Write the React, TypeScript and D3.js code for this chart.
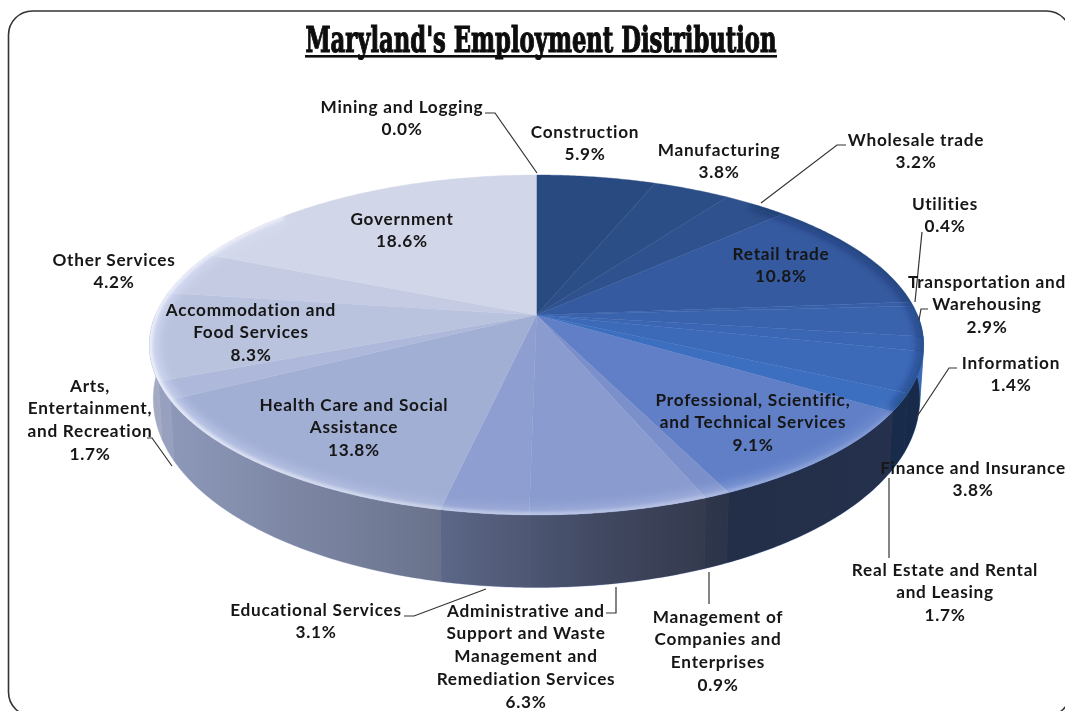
import React from "react";
import * as d3 from "d3";

const W = 1065, H = 711;
const sectors = ["Mining and Logging","Construction","Manufacturing","Wholesale trade","Retail trade","Utilities","Transportation and Warehousing","Information","Finance and Insurance","Real Estate and Rental and Leasing","Professional, Scientific, and Technical Services","Management of Companies and Enterprises","Administrative and Support and Waste Management and Remediation Services","Educational Services","Health Care and Social Assistance","Arts, Entertainment, and Recreation","Accommodation and Food Services","Other Services","Government"];
const shares = [0.0,5.9,3.8,3.2,10.8,0.4,2.9,1.4,3.8,1.7,9.1,0.9,6.3,3.1,13.8,1.7,8.3,4.2,18.6];
const palette = ["#24467c","#284a80","#2b4e87","#2f528e","#355a9f","#3860a8","#3a63ad","#3b66b3","#3c6ab9","#3d6fc0","#607fc7","#7b90cb","#8a9bcf","#8e9ed0","#a2afd5","#adb8da","#bac3de","#c4cbe3","#d1d6e8"];

const labelLines = [["Mining and Logging"],["Construction"],["Manufacturing"],["Wholesale trade"],["Retail trade"],["Utilities"],["Transportation and","Warehousing"],["Information"],["Finance and Insurance"],["Real Estate and Rental","and Leasing"],["Professional, Scientific,","and Technical Services"],["Management of","Companies and","Enterprises"],["Administrative and","Support and Waste","Management and","Remediation Services"],["Educational Services"],["Health Care and Social","Assistance"],["Arts,","Entertainment,","and Recreation"],["Accommodation and","Food Services"],["Other Services"],["Government"]];
const labelCenterX = [402,585,719,916,781,945,987,1011,973,945,753,718,526,316,354,90,251,114,402];
const labelTopY = [107,132,150,140,254,204,282,363,468,570,400,617,611,610,405,386,310,260,219];
const leaders: [number,number][][] = [
  [[485,113],[495,113],[537,173]],
  [[846,145],[837,145],[761,203]],
  [[922,232],[915,302]],
  [[928,309],[921,309],[919,320]],
  [[957,368],[949,368],[916,418]],
  [[889,478],[889,558]],
  [[709,572],[709,604]],
  [[616,587],[616,613],[606,613]],
  [[404,616],[414,616],[486,589]],
  [[147,438],[152,438],[172,466]],
];

const apex = { x: 536.5, y: 315 };
const persp = 0.1765, Rx = 381, Ry = 164.7;
const project = (t: number) => {
  const u = Math.sin(t), v = -Math.cos(t), w = 1 - persp * v;
  return { x: apex.x + (Rx * u) / w, y: apex.y + (Ry * v) / w, v };
};
const lowerRim = (t: number) => {
  const p = project(t);
  return { x: apex.x + (p.x - apex.x) * 0.99, y: p.y + 50 * (1 + 0.45 * p.v) };
};
const arcs = d3.pie<number>().sort(null).value((d) => d).startAngle(0).endAngle(2 * Math.PI)(shares);
const samples = (a: number, b: number) => {
  const n = Math.max(2, Math.ceil((b - a) / 0.01));
  return d3.range(n + 1).map((i) => a + ((b - a) * i) / n);
};
const line = d3.line<{ x: number; y: number }>().x((d) => d.x).y((d) => d.y);
const topPath = (a: number, b: number) => line([apex, ...samples(a, b).map(project)]) + "Z";
const sidePath = (a: number, b: number) => line([...samples(a, b).map(project), ...samples(a, b).reverse().map(lowerRim)]) + "Z";
const rim = line(samples(0, 2 * Math.PI).map(project)) + "Z";
const deg = (d: number) => (d * Math.PI) / 180;
const lightArc = line(samples(deg(122), deg(312)).map(project)) as string;
const darkArc = line(samples(deg(40), deg(122)).map(project)) as string;
const x2off = d3.scaleLinear().domain([148, 924]).range([0, 1]);

const shadeStops: [number, number][] = [[148, 0.12],[170, 0.13],[430, 0.34],[530, 0.45],[620, 0.55],[725, 0.64],[880, 0.62],[924, 0.6]];
const rimStops: [number, number][] = [[148, 0.62],[240, 0.5],[440, 0.38],[600, 0.3],[730, 0.22],[890, 0.1]];
const glowStops: [number, number][] = [[148, 0.55],[240, 0.35],[440, 0.15],[720, 0.25],[890, 0.1]];

const fontFamily = "Lato, Carlito, sans-serif";

export default function App() {
  const sideArcs = arcs.filter((a) => a.endAngle > Math.PI / 2 && a.startAngle < 1.5 * Math.PI);
  return (
    <svg width={W} height={H} style={{ position: "absolute", left: 0, top: 0, background: "#fff" }}>
      <defs>
        <linearGradient id="shade" gradientUnits="userSpaceOnUse" x1={148} x2={924} y1={0} y2={0}>
          {shadeStops.map(([x, o]) => <stop key={x} offset={x2off(x)} stopColor="#000" stopOpacity={o} />)}
        </linearGradient>
        <linearGradient id="rimLight" gradientUnits="userSpaceOnUse" x1={148} x2={924} y1={0} y2={0}>
          {rimStops.map(([x, o]) => <stop key={x} offset={x2off(x)} stopColor="#fff" stopOpacity={o} />)}
        </linearGradient>
        <linearGradient id="rimGlow" gradientUnits="userSpaceOnUse" x1={148} x2={924} y1={0} y2={0}>
          {glowStops.map(([x, o]) => <stop key={x} offset={x2off(x)} stopColor="#dfe6ff" stopOpacity={o} />)}
        </linearGradient>
        <filter id="soft" x="-5%" y="-5%" width="110%" height="110%"><feGaussianBlur stdDeviation="1.8" /></filter>
        <filter id="wide" x="-5%" y="-5%" width="110%" height="110%"><feGaussianBlur stdDeviation="5" /></filter>
        <filter id="tiny" x="-5%" y="-5%" width="110%" height="110%"><feGaussianBlur stdDeviation="0.35" /></filter>
        <clipPath id="topClip"><path d={rim} /></clipPath>
      </defs>
      <rect x={8.5} y={11} width={1062} height={705} rx={24} fill="#fff" stroke="#333" strokeWidth={1.6} />
      <g filter="url(#tiny)">
        <text x={541} y={52} textAnchor="middle" fontFamily="'DejaVu Serif', serif" fontWeight={700} fontSize={35} textLength={471} lengthAdjust="spacingAndGlyphs" fill="#0a0a0a" stroke="#0a0a0a" strokeWidth={1.2}>Maryland's Employment Distribution</text>
        <rect x={305} y={55} width={472} height={2.6} fill="#111" />
      </g>
      <g>
        {sideArcs.map((a, i) => (
          <path key={i} d={sidePath(Math.max(a.startAngle, Math.PI / 2), Math.min(a.endAngle, 1.5 * Math.PI))} fill={palette[a.index]} stroke={palette[a.index]} strokeWidth={0.5} />
        ))}
        <path d={sidePath(Math.PI / 2, 1.5 * Math.PI)} fill="url(#shade)" />
      </g>
      <g>
        {arcs.map((a, i) => (
          <path key={i} d={topPath(a.startAngle, a.endAngle)} fill={palette[a.index]} stroke={palette[a.index]} strokeWidth={0.4} />
        ))}
      </g>
      <g clipPath="url(#topClip)">
        <path d={lightArc} fill="none" stroke="url(#rimGlow)" strokeWidth={18} filter="url(#wide)" />
        <path d={lightArc} fill="none" stroke="url(#rimLight)" strokeWidth={6} filter="url(#soft)" />
        <path d={darkArc} fill="none" stroke="#0c1c44" strokeOpacity={0.42} strokeWidth={10} filter="url(#wide)" />
      </g>
      <g fill="none" stroke="#333" strokeWidth={1.2}>
        {leaders.map((l, i) => <path key={i} d={d3.line()(l) as string} />)}
      </g>
      <g fontFamily={fontFamily} fontWeight={700} fontSize={17.2} fill="#151515" textAnchor="middle" letterSpacing={0.75} filter="url(#tiny)">
        {sectors.map((s, i) => {
          const lines = [...labelLines[i], `${shares[i].toFixed(1)}%`];
          return (
            <text key={s}>
              {lines.map((t, j) => (
                <tspan key={j} x={labelCenterX[i]} y={labelTopY[i] + 5.5 + j * 22.8}>{t}</tspan>
              ))}
            </text>
          );
        })}
      </g>
    </svg>
  );
}
